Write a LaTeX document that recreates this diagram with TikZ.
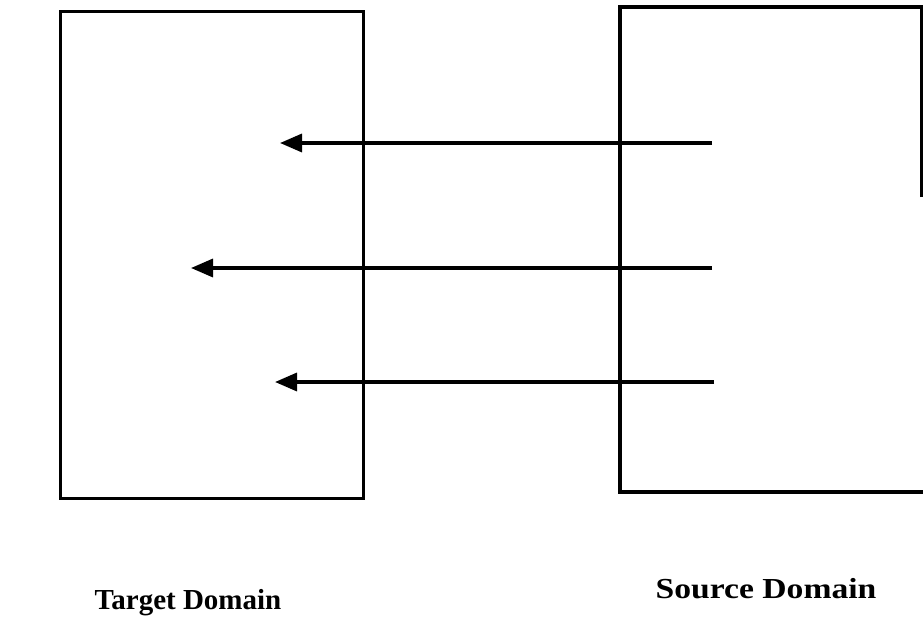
\documentclass[tikz,border=0pt]{standalone}
\usepackage{fontspec}
\setmainfont{Liberation Serif}
\usetikzlibrary{arrows.meta}
\tikzset{
  boxline/.style={line width=3.2pt, line join=miter},
  maparrow/.style={line width=3.4pt, -{Triangle[length=22pt,width=18pt]}},
  domlabel/.style={font=\fontsize{29}{31}\selectfont\bfseries, inner sep=0pt, anchor=base, xscale=1.16},
  tdomlabel/.style={font=\fontsize{29}{31}\selectfont\bfseries, inner sep=0pt, anchor=base, xscale=1.0}
}
\begin{document}
\begin{tikzpicture}[x=1pt,y=-1pt]
\useasboundingbox (0,0) rectangle (923,618);
% target domain box
\node[boxline, draw, minimum width=303pt, minimum height=487pt, inner sep=0pt, anchor=north west] (target) at (59,10) {};
% source domain box (right edge partly cut)
\coordinate (s1) at (922,197);
\coordinate (s2) at (922,7);
\coordinate (s3) at (620,7);
\coordinate (s4) at (620,492);
\coordinate (s5) at (923,492);
\draw[boxline] (s1) -- (s2) -- (s3) -- (s4) -- (s5);
% arrows
\coordinate (a1s) at (712,143);
\coordinate (a1e) at (280,143);
\coordinate (a2s) at (712,268);
\coordinate (a2e) at (191,268);
\coordinate (a3s) at (714,382);
\coordinate (a3e) at (275,382);
\draw[maparrow] (a1s) -- (a1e);
\draw[maparrow] (a2s) -- (a2e);
\draw[maparrow] (a3s) -- (a3e);
% labels
\node[tdomlabel] (tlabel) at (188,609) {Target Domain};
\node[domlabel] (slabel) at (766,598) {Source Domain};
\end{tikzpicture}
\end{document}
